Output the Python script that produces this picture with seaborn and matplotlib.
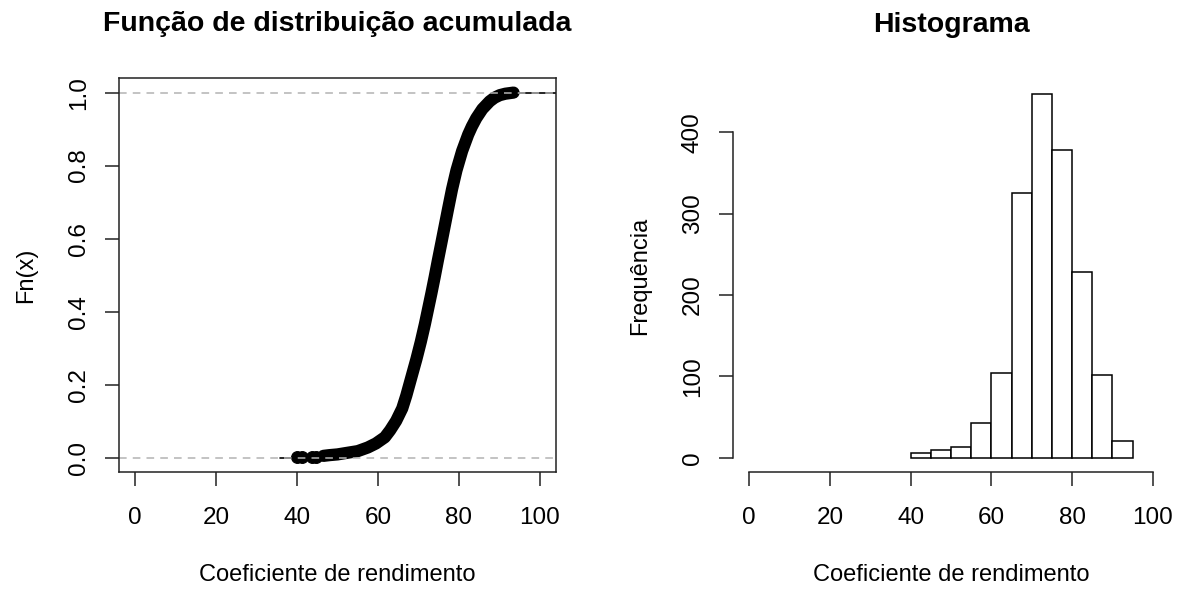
import numpy as np
import pandas as pd
import matplotlib
matplotlib.use("Agg")
import matplotlib.pyplot as plt
import seaborn as sns

# ---------------- data ----------------
# ECDF readings (x, Fn(x)) along the plotted curve
ecdf_x = [46.5, 48.0, 50.0, 52.2, 55.0, 57.5, 59.5, 61.7, 63.0, 64.5, 66.0, 67.0,
          68.3, 69.5, 70.6, 71.6, 72.4, 73.2, 74.0, 74.8, 75.7, 76.5, 77.3, 78.3,
          79.4, 80.8, 82.3, 83.2, 84.3, 85.8, 87.6, 88.8, 90.1, 91.5, 93.5]
ecdf_F = [0.005, 0.007, 0.009, 0.013, 0.018, 0.028, 0.039, 0.056, 0.075, 0.101, 0.135, 0.17,
          0.222, 0.27, 0.318, 0.366, 0.408, 0.45, 0.494, 0.54, 0.59, 0.635, 0.68, 0.735,
          0.787, 0.84, 0.885, 0.907, 0.93, 0.955, 0.976, 0.986, 0.993, 0.997, 1.0]
# isolated lowest observations
low_x = [40.1, 41.3, 43.7, 44.8]
low_F = [0.0006, 0.0012, 0.002, 0.003]
# step tails of the ECDF
tail_left = [35.7, 40.1]
tail_right = [93.5, 104.0]

# Histogram
bin_edges = [40, 45, 50, 55, 60, 65, 70, 75, 80, 85, 90, 95]
counts = [6, 9, 13, 43, 104, 326, 447, 379, 229, 102, 20]
bin_mids = [(a + b) / 2 for a, b in zip(bin_edges[:-1], bin_edges[1:])]

x_ticks = [0, 20, 40, 60, 80, 100]
y_ticks_ecdf = [0.0, 0.2, 0.4, 0.6, 0.8, 1.0]
y_ticks_hist = [0, 100, 200, 300, 400]

title_left = "Função de distribuição acumulada"
title_right = "Histograma"
xlabel = "Coeficiente de rendimento"
ylabel_left = "Fn(x)"
ylabel_right = "Frequência"

# ---------------- style ----------------
sns.set_style("ticks")
plt.rcParams["font.family"] = ["Liberation Sans", "DejaVu Sans"]
plt.rcParams["text.color"] = "black"
plt.rcParams["axes.labelcolor"] = "black"
plt.rcParams["xtick.color"] = "black"
plt.rcParams["ytick.color"] = "black"

W, H = 1182, 590
fig = plt.figure(figsize=(W / 100, H / 100), dpi=100)

ax1 = fig.add_axes([119 / W, (H - 472.3) / H, (556 - 119) / W, (472.3 - 78) / H])
ax2 = fig.add_axes([733 / W, (H - 472.3) / H, (1169 - 733) / W, (472.3 - 79.7) / H])

TICK_FS = 17.5
LABEL_FS = 17
TITLE_FS = 20.5
dark = "#222222"

# ---------------- ECDF ----------------
df_e = pd.DataFrame({"x": ecdf_x, "F": ecdf_F})
ax1.plot(tail_left, [0, 0], color="black", lw=1.2)
ax1.plot(tail_right, [1, 1], color="black", lw=1.2)
sns.lineplot(data=df_e, x="x", y="F", ax=ax1, color="black", lw=8.8,
             solid_capstyle="round", solid_joinstyle="round", sort=False)
sns.scatterplot(x=low_x, y=low_F, ax=ax1, color="black", s=72, edgecolor="black", linewidth=0.8)
ax1.axhline(0, color="#B3B3B3", ls=(0, (5, 4)), lw=1.1)
ax1.axhline(1, color="#B3B3B3", ls=(0, (5, 4)), lw=1.1)

ax1.set_xlim(-4, 104)
ax1.set_ylim(-0.04, 1.04)
ax1.set_xticks(x_ticks)
ax1.set_xticklabels([str(v) for v in x_ticks], fontsize=TICK_FS)
ax1.set_yticks(y_ticks_ecdf)
ax1.set_yticklabels([f"{v:.1f}" for v in y_ticks_ecdf], fontsize=TICK_FS, rotation=90, va="center")
for s in ax1.spines.values():
    s.set_visible(True)
    s.set_color(dark)
    s.set_linewidth(1.1)
ax1.tick_params(axis="both", length=10, width=1.1, color=dark, direction="out")
ax1.tick_params(axis="x", pad=15)
ax1.tick_params(axis="y", pad=11)
ax1.set_xlabel(xlabel, fontsize=LABEL_FS, labelpad=25)
ax1.set_ylabel(ylabel_left, fontsize=LABEL_FS, labelpad=22)
ax1.set_title(title_left, fontsize=TITLE_FS, fontweight="bold", pad=34)

# ---------------- Histogram ----------------
sns.histplot(x=bin_mids, weights=counts, bins=bin_edges, ax=ax2,
             color="white", edgecolor="black", linewidth=1.1, alpha=1)
ax2.set_xlim(-4, 104)
ax2.set_ylim(-0.04 * max(counts), 1.04 * max(counts))
ax2.set_xticks(x_ticks)
ax2.set_xticklabels([str(v) for v in x_ticks], fontsize=TICK_FS)
ax2.set_yticks(y_ticks_hist)
ax2.set_yticklabels([str(v) for v in y_ticks_hist], fontsize=TICK_FS, rotation=90, va="center")
ax2.spines["top"].set_visible(False)
ax2.spines["right"].set_visible(False)
ax2.spines["bottom"].set_bounds(0, 100)
ax2.spines["left"].set_bounds(0, 400)
for k in ("bottom", "left"):
    ax2.spines[k].set_color(dark)
    ax2.spines[k].set_linewidth(1.1)
ax2.tick_params(axis="both", length=10, width=1.1, color=dark, direction="out")
ax2.tick_params(axis="x", pad=15)
ax2.tick_params(axis="y", pad=11)
ax2.set_xlabel(xlabel, fontsize=LABEL_FS, labelpad=25)
ax2.set_ylabel(ylabel_right, fontsize=LABEL_FS, labelpad=22)
ax2.set_title(title_right, fontsize=TITLE_FS, fontweight="bold", pad=34)

fig.savefig("out.png", dpi=100, facecolor="white")
